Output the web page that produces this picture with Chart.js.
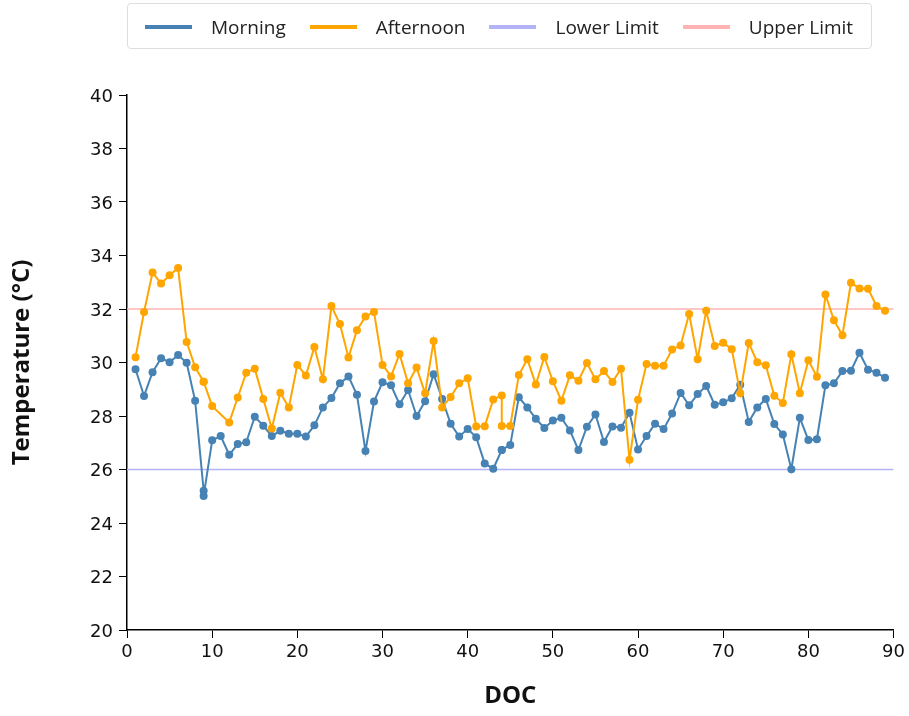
<!DOCTYPE html>
<html lang="en">
<head>
    <meta charset="UTF-8">
    <title>Temperature by DOC</title>
    <style>
        body {
            margin: 0;
            background: #fff;
            font-family: 'Open Sans', sans-serif;
        }
        #wrap {
            position: relative;
            width: 909px;
            height: 716px;
        }
        #legend {
            position: absolute;
            left: 127px;
            top: 3px;
            width: 745px;
            height: 46px;
            border: 1px solid #ddd;
            border-radius: 4px;
            box-sizing: border-box;
            display: flex;
            align-items: center;
            padding-left: 17px;
            padding-top: 2px;
            font-size: 19px;
            color: #222;
            white-space: nowrap;
        }
        .item {
            display: flex;
            align-items: center;
            margin-right: 24px;
        }
        .swatch {
            width: 47px;
            height: 4px;
            margin-right: 19px;
        }
    </style>
    <script src="https://cdn.jsdelivr.net/npm/chart.js"></script>
</head>
<body>
<div id="wrap">
    <canvas id="tempChart" width="909" height="716"></canvas>
    <div id="legend"></div>
</div>

<script>
    // day of culture (9 and 44 appear twice)
    const days = [1, 2, 3, 4, 5, 6, 7, 8, 9, 9, 10, 11, 12, 13, 14, 15, 16, 17, 18, 19, 20,
        21, 22, 23, 24, 25, 26, 27, 28, 29, 30, 31, 32, 33, 34, 35, 36, 37, 38, 39, 40,
        41, 42, 43, 44, 44, 45, 46, 47, 48, 49, 50, 51, 52, 53, 54, 55, 56, 57, 58, 59, 60,
        61, 62, 63, 64, 65, 66, 67, 68, 69, 70, 71, 72, 73, 74, 75, 76, 77, 78, 79, 80,
        81, 82, 83, 84, 85, 86, 87, 88, 89];

    const morning = [29.75, 28.75, 29.64, 30.16, 30.01, 30.28, 29.99, 28.57, 25.21, 25.01, 27.09, 27.25, 26.55, 26.95, 27.02, 27.97, 27.64, 27.25, 27.45, 27.34, 27.34,
        27.23, 27.65, 28.32, 28.67, 29.22, 29.48, 28.79, 26.69, 28.54, 29.26, 29.15, 28.44, 28.97, 28.0, 28.55, 29.56, 28.64, 27.71, 27.23, 27.51,
        27.21, 26.22, 26.03, 26.73, 26.73, 26.92, 28.7, 28.32, 27.9, 27.55, 27.83, 27.93, 27.46, 26.73, 27.6, 28.06, 27.03, 27.61, 27.56, 28.12, 26.75,
        27.25, 27.71, 27.51, 28.09, 28.86, 28.4, 28.82, 29.12, 28.42, 28.51, 28.66, 29.17, 27.78, 28.32, 28.64, 27.7, 27.31, 26.01, 27.93, 27.1,
        27.13, 29.15, 29.22, 29.68, 29.69, 30.36, 29.73, 29.62, 29.43];

    const afternoon = [30.2, 31.89, 33.36, 32.95, 33.26, 33.53, 30.77, 29.82, 29.28, 29.28, 28.37, null, 27.76, 28.69, 29.62, 29.77, 28.64, 27.53, 28.87, 28.32, 29.91,
        29.51, 30.58, 29.37, 32.11, 31.44, 30.19, 31.21, 31.72, 31.89, 29.91, 29.48, 30.32, 29.22, 29.81, 28.85, 30.8, 28.32, 28.71, 29.22, 29.41,
        27.61, 27.62, 28.62, 28.77, 27.63, 27.63, 29.53, 30.12, 29.18, 30.21, 29.3, 28.57, 29.52, 29.32, 29.98, 29.37, 29.68, 29.27, 29.77, 26.36, 28.61,
        29.94, 29.88, 29.88, 30.49, 30.64, 31.81, 30.12, 31.93, 30.62, 30.74, 30.5, 28.85, 30.73, 30.01, 29.9, 28.76, 28.49, 30.31, 28.85, 30.08,
        29.47, 32.54, 31.58, 31.02, 32.98, 32.77, 32.76, 32.11, 31.93];

    const limitDays = [0, 90];
    const lowerLimit = [26, 26];
    const upperLimit = [32, 32];

    const xTicks = [0, 10, 20, 30, 40, 50, 60, 70, 80, 90];
    const yTicks = [20, 22, 24, 26, 28, 30, 32, 34, 36, 38, 40];

    const labels = ['Morning', 'Afternoon', 'Lower Limit', 'Upper Limit'];
    const colors = ['#4682b4', '#ffa500', '#b3b3f7', '#ffb3b3'];

    function toPoints(xs, ys) {
        return xs.map((x, i) => ({ x: x, y: ys[i] }));
    }

    // legend box drawn as html
    const legend = document.getElementById('legend');
    labels.forEach((name, i) => {
        const item = document.createElement('div');
        item.className = 'item';
        item.innerHTML = '<span class="swatch" style="background:' + colors[i] + '"></span>' + name;
        legend.appendChild(item);
    });

    const ctx = document.getElementById('tempChart').getContext('2d');
    new Chart(ctx, {
        type: 'line',
        data: {
            datasets: [
                {
                    label: labels[0],
                    data: toPoints(days, morning),
                    borderColor: colors[0],
                    backgroundColor: colors[0],
                    borderWidth: 2,
                    pointRadius: 4,
                    pointBorderWidth: 0,
                    tension: 0,
                    order: 2
                },
                {
                    label: labels[1],
                    data: toPoints(days, afternoon),
                    borderColor: colors[1],
                    backgroundColor: colors[1],
                    borderWidth: 2,
                    pointRadius: 4,
                    pointBorderWidth: 0,
                    spanGaps: true,
                    tension: 0,
                    order: 1
                },
                {
                    label: labels[2],
                    data: toPoints(limitDays, lowerLimit),
                    borderColor: colors[2],
                    borderWidth: 1.5,
                    pointRadius: 0,
                    order: 3
                },
                {
                    label: labels[3],
                    data: toPoints(limitDays, upperLimit),
                    borderColor: colors[3],
                    borderWidth: 1.5,
                    pointRadius: 0,
                    order: 3
                }
            ]
        },
        options: {
            responsive: false,
            animation: false,
            layout: {
                padding: { top: 95, right: 14, bottom: 0, left: 0 }
            },
            plugins: {
                legend: { display: false },
                tooltip: { enabled: false }
            },
            scales: {
                x: {
                    type: 'linear',
                    min: 0,
                    max: 90,
                    afterFit: s => { s.height = 86; },
                    afterBuildTicks: s => { s.ticks = xTicks.map(v => ({ value: v })); },
                    grid: { drawOnChartArea: false, drawTicks: true, tickLength: 8, color: '#000' },
                    border: { color: '#000', width: 1.5 },
                    ticks: {
                        color: '#111',
                        padding: 4,
                        maxRotation: 0,
                        font: { family: 'DejaVu Sans', size: 18 }
                    },
                    title: {
                        display: true,
                        text: 'DOC',
                        color: '#111',
                        padding: { top: 0, bottom: 5 },
                        font: { family: 'Open Sans', size: 24, weight: 'bold' }
                    }
                },
                y: {
                    min: 20,
                    max: 40,
                    afterFit: s => { s.width = 127; },
                    afterBuildTicks: s => { s.ticks = yTicks.map(v => ({ value: v })); },
                    grid: { drawOnChartArea: false, drawTicks: true, tickLength: 8, color: '#000' },
                    border: { color: '#000', width: 1.5 },
                    ticks: {
                        color: '#111',
                        padding: 6,
                        labelOffset: 2,
                        font: { family: 'DejaVu Sans', size: 18 }
                    },
                    title: {
                        display: true,
                        text: 'Temperature (°C)',
                        color: '#111',
                        padding: { top: 8, bottom: 0 },
                        font: { family: 'Open Sans', size: 24, weight: 'bold' }
                    }
                }
            }
        }
    });
</script>
</body>
</html>
